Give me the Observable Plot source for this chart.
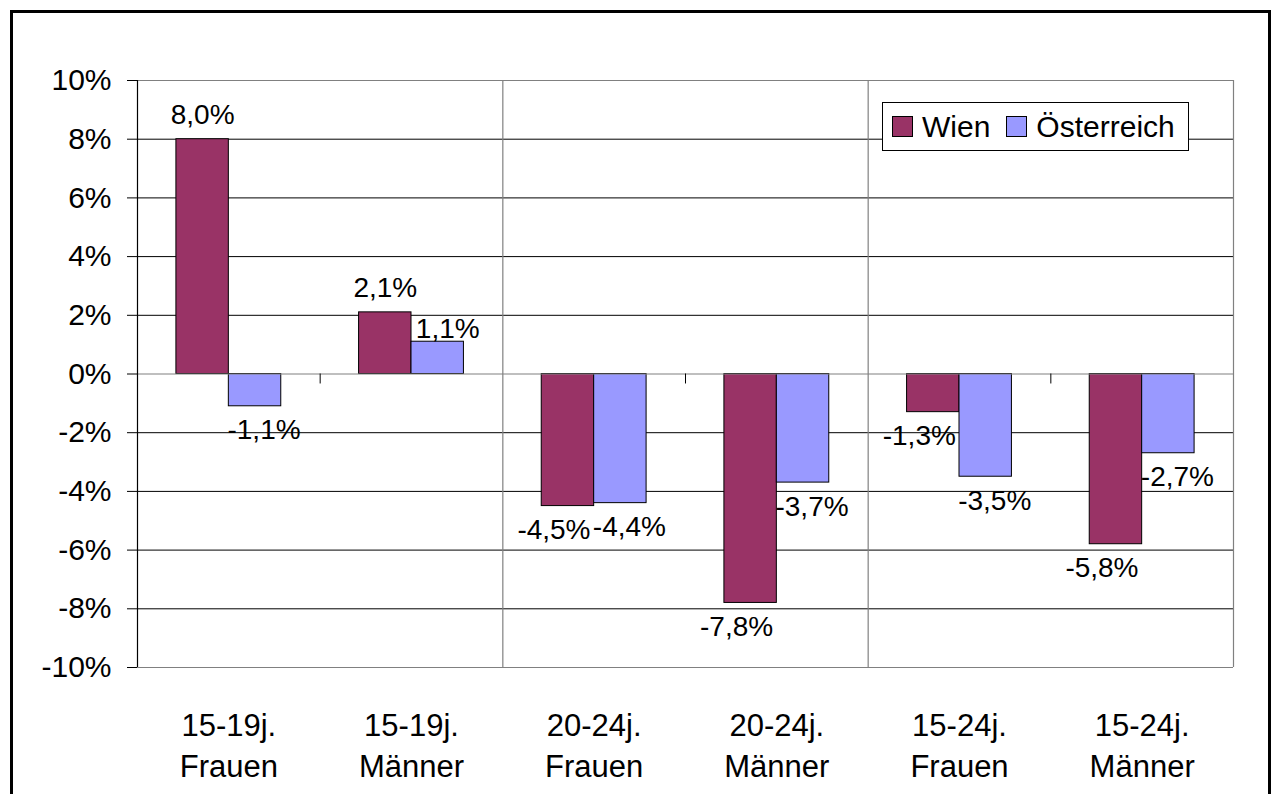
<!DOCTYPE html>
<html>
<head>
<meta charset="utf-8">
<script src="https://cdn.jsdelivr.net/npm/d3@7"></script>
<script src="https://cdn.jsdelivr.net/npm/@observablehq/plot@0.6"></script>
<style>
  html, body { margin: 0; padding: 0; background: #fff; overflow: hidden; }
  #wrap { position: relative; width: 1273px; height: 794px; overflow: hidden; font-family: "Liberation Sans", Arial, sans-serif; }
  #chart { position: absolute; left: 0; top: 0; }
  #border { position: absolute; left: 10px; top: 10px; width: 1255px; height: 900px; border: 3px solid #000; pointer-events: none; }
  #legend { position: absolute; left: 882px; top: 102px; width: 307px; height: 49px; border: 1px solid #000; background: #fff;
            display: flex; align-items: center; box-sizing: border-box; padding-left: 9px; font-size: 30px; line-height: 1; color: #000; }
  #legend .item { display: flex; align-items: center; margin-right: 16px; }
  #legend .sw { width: 19px; height: 19px; border: 1px solid #000; margin-right: 9px; }
</style>
</head>
<body>
<div id="wrap">
  <div id="chart"></div>
  <div id="legend"></div>
  <div id="border"></div>
</div>
<script>
const categories = ["15-19j.\nFrauen", "15-19j.\nMänner", "20-24j.\nFrauen", "20-24j.\nMänner", "15-24j.\nFrauen", "15-24j.\nMänner"];
const series = ["Wien", "Österreich"];
const wien = [8.0, 2.1, -4.5, -7.8, -1.3, -5.8];
const oesterreich = [-1.1, 1.1, -4.4, -3.7, -3.5, -2.7];
const yTicks = [-10, -8, -6, -4, -2, 0, 2, 4, 6, 8, 10];
const colors = ["#993366", "#9999FF"];

const data = categories.flatMap((c, i) => [
  {i, series: "Wien", value: wien[i]},
  {i, series: "Österreich", value: oesterreich[i]}
]);

// bar placement inside each category slot (fractions of a slot)
const start = {"Wien": 0.213, "Österreich": 0.5};
const bw = 0.287;
const x1 = d => d.i + start[d.series];
const x2 = d => d.i + start[d.series] + bw;
const xc = d => d.i + start[d.series] + bw / 2;
const fmt = d => d.value.toFixed(1).replace(".", ",") + "%";

const sel = (s, pos) => data.filter(d => d.series === s && (pos ? d.value > 0 : d.value < 0));

const chart = Plot.plot({
  width: 1273,
  height: 794,
  marginLeft: 137,
  marginRight: 40,
  marginTop: 80,
  marginBottom: 127,
  x: {domain: [0, categories.length], axis: null},
  y: {domain: [-10, 10], axis: null},
  color: {domain: series, range: colors},
  style: {fontFamily: "'Liberation Sans', Arial, sans-serif", background: "#fff", color: "#000", overflow: "visible"},
  marks: [
    Plot.ruleY(yTicks.filter(t => Math.abs(t) !== 10 && t !== 0), {stroke: "#000", strokeWidth: 1}),
    Plot.ruleY([10, -10], {stroke: "#808080", strokeWidth: 1.2}),
    Plot.ruleX([2, 4, 6], {stroke: "#808080", strokeWidth: 1.2}),
    Plot.rectY(data, {x1, x2, y1: 0, y2: "value", fill: "series", stroke: "#000", strokeWidth: 1}),
    Plot.ruleY([0], {stroke: "#808080", strokeWidth: 1.2}),
    Plot.ruleX([1, 3, 5], {y1: 0, y2: -0.34, stroke: "#000"}),
    Plot.ruleX([0], {stroke: "#000", strokeWidth: 1.2}),
    Plot.axisY(yTicks, {anchor: "left", label: null, tickSize: 10, tickPadding: 16, fontSize: 30, tickFormat: d => d + "%"}),
    Plot.axisX(categories.map((c, i) => i + 0.5), {anchor: "bottom", label: null, tickSize: 0, tickPadding: 39, fontSize: 31, lineHeight: 1.33,
      tickFormat: d => categories[Math.floor(d)]}),
    Plot.text(sel("Wien", true), {x: xc, y: "value", text: fmt, dy: -24, fontSize: 28}),
    Plot.text(sel("Wien", false), {x: xc, y: "value", text: fmt, dy: 24, dx: -14, fontSize: 28}),
    Plot.text(sel("Österreich", true), {x: xc, y: "value", text: fmt, dy: -13, dx: 10, fontSize: 28}),
    Plot.text(sel("Österreich", false), {x: xc, y: "value", text: fmt, dy: 24, dx: 9, fontSize: 28})
  ]
});
document.getElementById("chart").appendChild(chart);

const legend = document.getElementById("legend");
series.forEach((s, k) => {
  const item = document.createElement("div");
  item.className = "item";
  const sw = document.createElement("div");
  sw.className = "sw";
  sw.style.background = colors[k];
  const t = document.createElement("span");
  t.textContent = s;
  item.appendChild(sw);
  item.appendChild(t);
  legend.appendChild(item);
});
</script>
</body>
</html>
